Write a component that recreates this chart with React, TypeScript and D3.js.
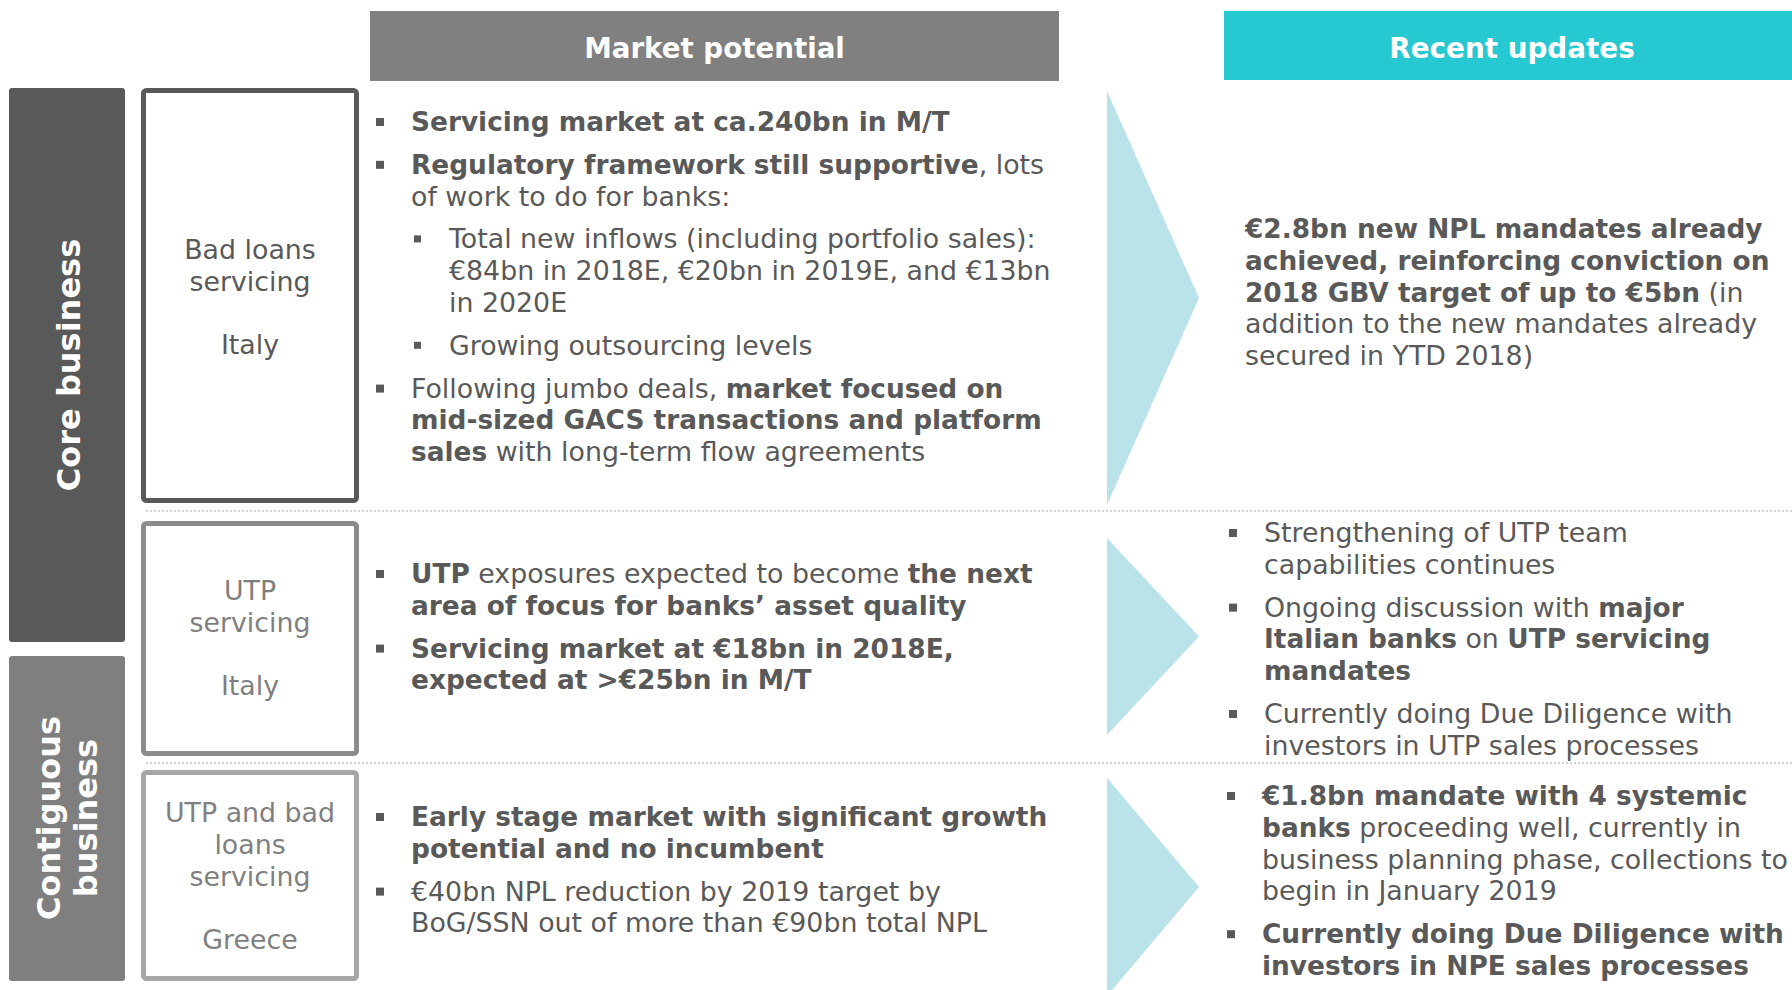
import * as d3 from "d3";

// slide texts, "**" toggles bold
const headers = ["Market potential", "Recent updates"];
const groupLabels = [["Core business"], ["Contiguous", "business"]];
const segmentLabels = [
  ["Bad loans", "servicing", "", "Italy"],
  ["UTP", "servicing", "", "Italy"],
  ["UTP and bad", "loans", "servicing", "", "Greece"],
];

type Para = { lvl: number; lines: string[] };

const marketPotential: Para[][] = [
  [
    { lvl: 1, lines: ["**Servicing market at ca.240bn in M/T**"] },
    { lvl: 1, lines: ["**Regulatory framework still supportive**, lots", "of work to do for banks:"] },
    { lvl: 2, lines: ["Total new inflows (including portfolio sales):", "€84bn in 2018E, €20bn in 2019E, and €13bn", "in 2020E"] },
    { lvl: 2, lines: ["Growing outsourcing levels"] },
    { lvl: 1, lines: ["Following jumbo deals, **market focused on**", "**mid-sized GACS transactions and platform**", "**sales** with long-term flow agreements"] },
  ],
  [
    { lvl: 1, lines: ["**UTP** exposures expected to become **the next**", "**area of focus for banks’ asset quality**"] },
    { lvl: 1, lines: ["**Servicing market at €18bn in 2018E,**", "**expected at >€25bn in M/T**"] },
  ],
  [
    { lvl: 1, lines: ["**Early stage market with significant growth**", "**potential and no incumbent**"] },
    { lvl: 1, lines: ["€40bn NPL reduction by 2019 target by", "BoG/SSN out of more than €90bn total NPL"] },
  ],
];

const recentUpdates: Para[][] = [
  [
    {
      lvl: 0,
      lines: [
        "**€2.8bn new NPL mandates already**",
        "**achieved, reinforcing conviction on**",
        "**2018 GBV target of up to €5bn** (in",
        "addition to the new mandates already",
        "secured in YTD 2018)",
      ],
    },
  ],
  [
    { lvl: 1, lines: ["Strengthening of UTP team", "capabilities continues"] },
    { lvl: 1, lines: ["Ongoing discussion with **major**", "**Italian banks** on **UTP servicing**", "**mandates**"] },
    { lvl: 1, lines: ["Currently doing Due Diligence with", "investors in UTP sales processes"] },
  ],
  [
    { lvl: 1, lines: ["**€1.8bn mandate with 4 systemic**", "**banks** proceeding well, currently in", "business planning phase, collections to", "begin in January 2019"] },
    { lvl: 1, lines: ["**Currently doing Due Diligence with**", "**investors in NPE sales processes**"] },
  ],
];

// first baseline of each text block
const marketStart = [131, 583, 826];
const recentStart = [238, 542, 805];
const labelStart = [259, 600, 822];

const W = 1792;
const H = 990;
const FONT = "'DejaVu Sans', Verdana, sans-serif";
const TEXT = "#595959";
const FS = 26.8;
const FS_BOLD = 26.4;
const LH = 31.8;
const GAP = 11;

const rowBounds = [88, 511, 763, H];
const boxBorder = ["#595959", "#8c8c8c", "#a6a6a6"];
const labelFill = ["#595959", "#7f7f7f", "#808080"];

function parse(line: string) {
  return line
    .split("**")
    .map((t, i) => ({ t, b: i % 2 === 1 }))
    .filter((s) => s.t.length > 0);
}

function RichLine({ x, y, line, fill = TEXT, anchor = "start" }: any) {
  return (
    <text x={x} y={y} fontSize={FS} fill={fill} textAnchor={anchor} style={{ whiteSpace: "pre" }}>
      {parse(line).map((s, i) => (
        <tspan key={i} fontWeight={s.b ? "bold" : "normal"} fontSize={s.b ? FS_BOLD : FS}>
          {s.t}
        </tspan>
      ))}
    </text>
  );
}

function Block({ paras, start, x0, bulletX, subBulletX, subX }: any) {
  let y = start;
  const out: any[] = [];
  paras.forEach((p: Para, pi: number) => {
    const tx = p.lvl === 2 ? subX : x0;
    const bx = p.lvl === 2 ? subBulletX : bulletX;
    if (p.lvl > 0) {
      const s = p.lvl === 2 ? 7 : 8;
      out.push(<rect key={`b${pi}`} x={bx} y={y - 13} width={s} height={s} fill={TEXT} />);
    }
    p.lines.forEach((l, li) => {
      out.push(<RichLine key={`${pi}-${li}`} x={tx} y={y} line={l} />);
      y += LH;
    });
    y += GAP;
  });
  return <g>{out}</g>;
}

export default function App() {
  const arrowX = d3.scaleLinear().domain([0, 1]).range([1107, 1199]);
  const arrow = d3.line();
  const arrowRows = [
    [91, 505],
    [538, 735],
    [778, 996],
  ];

  return (
    <svg
      width={W}
      height={H}
      style={{ position: "absolute", left: 0, top: 0, display: "block", background: "#fff" }}
      fontFamily={FONT}
    >
      {/* column headers */}
      <rect x={370} y={11} width={689} height={70} fill="#808080" />
      <text x={714.5} y={58} fill="#fff" fontSize={27.7} fontWeight="bold" textAnchor="middle">
        {headers[0]}
      </text>
      <rect x={1224} y={11} width={580} height={69} fill="#26c8d2" />
      <text x={1512} y={58} fill="#fff" fontSize={27.8} fontWeight="bold" textAnchor="middle">
        {headers[1]}
      </text>

      {/* group bars on the left */}
      <rect x={9} y={88} width={116} height={554} rx={3} fill="#595959" />
      <text
        transform={`translate(80,365) rotate(-90)`}
        fill="#fff"
        fontSize={32}
        fontWeight="bold"
        textAnchor="middle"
      >
        {groupLabels[0][0]}
      </text>
      <rect x={9} y={656} width={116} height={325} rx={3} fill="#7f7f7f" />
      {groupLabels[1].map((l, i) => (
        <text
          key={l}
          transform={`translate(${60 + i * 37},818) rotate(-90)`}
          fill="#fff"
          fontSize={32}
          fontWeight="bold"
          textAnchor="middle"
        >
          {l}
        </text>
      ))}

      {/* segment boxes */}
      {[
        [88, 503],
        [521, 756],
        [770, 981],
      ].map(([t, b], i) => (
        <rect
          key={i}
          x={143.5}
          y={t + 2.5}
          width={213}
          height={b - t - 5}
          rx={3}
          fill="#fff"
          stroke={boxBorder[i]}
          strokeWidth={5}
        />
      ))}
      {segmentLabels.map((lines, i) =>
        lines.map((l, j) => (
          <text key={`${i}-${j}`} x={250} y={labelStart[i] + j * LH} fontSize={FS} fill={labelFill[i]} textAnchor="middle">
            {l}
          </text>
        ))
      )}

      {/* dotted separators */}
      {rowBounds.slice(1, 3).map((y) => (
        <line key={y} x1={146} x2={W} y1={y} y2={y} stroke="#a6a6a6" strokeWidth={1} strokeDasharray="2 2" />
      ))}

      {/* arrows */}
      {arrowRows.map(([t, b], i) => (
        <path
          key={i}
          d={
            arrow([
              [arrowX(0), t],
              [arrowX(1), (t + b) / 2],
              [arrowX(0), b],
            ]) + "Z"
          }
          fill="#b9e3e8"
        />
      ))}

      {/* market potential column */}
      {marketPotential.map((paras, i) => (
        <Block key={i} paras={paras} start={marketStart[i]} x0={411} bulletX={376} subBulletX={414} subX={449} />
      ))}

      {/* recent updates column */}
      {recentUpdates.map((paras, i) => (
        <Block
          key={i}
          paras={paras}
          start={recentStart[i]}
          x0={i === 0 ? 1245 : i === 1 ? 1264 : 1262}
          bulletX={i === 2 ? 1227 : 1229}
          subBulletX={1229}
          subX={1264}
        />
      ))}
    </svg>
  );
}
